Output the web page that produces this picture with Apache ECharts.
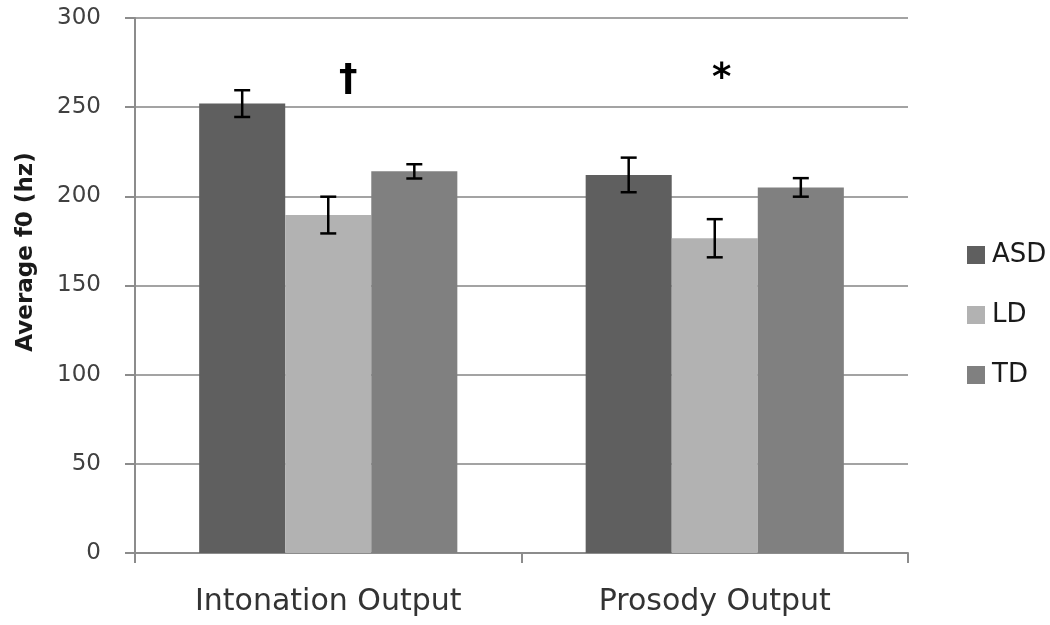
<!DOCTYPE html>
<html>
<head>
<meta charset="utf-8">
<script src="https://cdn.jsdelivr.net/npm/echarts@6/dist/echarts.min.js"></script>
<style>
html,body{margin:0;padding:0;background:#fff;}
#chart{width:1050px;height:625px;}
</style>
</head>
<body>
<div id="chart"></div>
<script>
// ---- data ----
const categories = ['Intonation Output', 'Prosody Output'];
const groupNames = ['ASD', 'LD', 'TD'];
const asdValues = [252, 212];
const ldValues = [189.5, 176.5];
const tdValues = [214, 205];
const asdErrors = [7.5, 9.7];
const ldErrors = [10.3, 10.7];
const tdErrors = [4, 5.2];
const yTicks = [0, 50, 100, 150, 200, 250, 300];
const annotationTexts = ['†', '*'];
const annotationValues = [265, 265.5];

// ---- styles ----
const colors = ['#5f5f5f', '#b2b2b2', '#808080'];
const gapRatio = 0.332;
const annotationDx = [20, 7];
const font = 'DejaVu Sans';

const values = [asdValues, ldValues, tdValues];
const errors = [asdErrors, ldErrors, tdErrors];

function errRender(si) {
  return function (params, api) {
    const c = api.value(0);
    const lo = api.coord([c, api.value(1)]);
    const hi = api.coord([c, api.value(2)]);
    const band = api.size([1, 0])[0];
    const barW = band * (1 - gapRatio) / 3;
    const x = lo[0] + (si - 1) * barW;
    const cap = 8;
    const st = { stroke: '#000', lineWidth: 2.5 };
    return {
      type: 'group',
      children: [
        { type: 'line', shape: { x1: x, y1: hi[1], x2: x, y2: lo[1] }, style: st },
        { type: 'line', shape: { x1: x - cap, y1: hi[1], x2: x + cap, y2: hi[1] }, style: st },
        { type: 'line', shape: { x1: x - cap, y1: lo[1], x2: x + cap, y2: lo[1] }, style: st }
      ]
    };
  };
}

const series = [];
groupNames.forEach(function (name, i) {
  series.push({
    name: name,
    type: 'bar',
    data: values[i],
    barGap: '0%',
    barCategoryGap: (gapRatio * 100) + '%',
    itemStyle: { color: colors[i] },
    z: 2
  });
});
groupNames.forEach(function (name, i) {
  series.push({
    type: 'custom',
    name: name + ' error',
    renderItem: errRender(i),
    encode: { x: 0, y: [1, 2] },
    data: categories.map(function (c, k) {
      return [k, values[i][k] - errors[i][k], values[i][k] + errors[i][k]];
    }),
    z: 5,
    silent: true
  });
});
series.push({
  type: 'custom',
  name: 'annotations',
  renderItem: function (params, api) {
    const k = params.dataIndex;
    const p = api.coord([api.value(0), api.value(1)]);
    return {
      type: 'text',
      x: p[0] + annotationDx[k],
      y: p[1],
      style: {
        text: annotationTexts[k],
        fill: '#000',
        font: 'bold 37px "' + font + '"',
        textAlign: 'center',
        textVerticalAlign: 'middle'
      }
    };
  },
  encode: { x: 0, y: 1 },
  data: categories.map(function (c, k) { return [k, annotationValues[k]]; }),
  z: 6,
  silent: true
});

const chart = echarts.init(document.getElementById('chart'), null, { renderer: 'canvas' });
chart.setOption({
  animation: false,
  backgroundColor: '#fff',
  grid: { left: 135, right: 142, top: 18, bottom: 72, containLabel: false },
  legend: {
    data: groupNames,
    orient: 'vertical',
    left: 962,
    top: 237,
    itemWidth: 18,
    itemHeight: 18,
    itemGap: 34,
    icon: 'rect',
    textStyle: { fontFamily: font, fontSize: 26, color: '#1a1a1a', padding: [0, 0, 0, 2] }
  },
  xAxis: {
    type: 'category',
    data: categories,
    axisLine: { lineStyle: { color: '#8c8c8c', width: 2 } },
    axisTick: { show: true, length: 10, lineStyle: { color: '#8c8c8c', width: 2 } },
    axisLabel: { fontFamily: font, fontSize: 30, color: '#333', margin: 34 }
  },
  yAxis: {
    type: 'value',
    min: yTicks[0],
    max: yTicks[yTicks.length - 1],
    interval: yTicks[1] - yTicks[0],
    axisLine: { show: true, lineStyle: { color: '#8c8c8c', width: 2 } },
    axisTick: { show: true, length: 10, lineStyle: { color: '#8c8c8c', width: 2 } },
    axisLabel: { fontFamily: font, fontSize: 23, color: '#404040', margin: 34 },
    splitLine: { lineStyle: { color: '#a3a3a3', width: 2 } }
  },
  graphic: [{
    type: 'text',
    x: 26,
    y: 252,
    rotation: Math.PI / 2,
    style: {
      text: 'Average f0 (hz)',
      font: 'bold 23px "' + font + '"',
      fill: '#1a1a1a',
      textAlign: 'center',
      textVerticalAlign: 'middle'
    }
  }],
  series: series
});
</script>
</body>
</html>
